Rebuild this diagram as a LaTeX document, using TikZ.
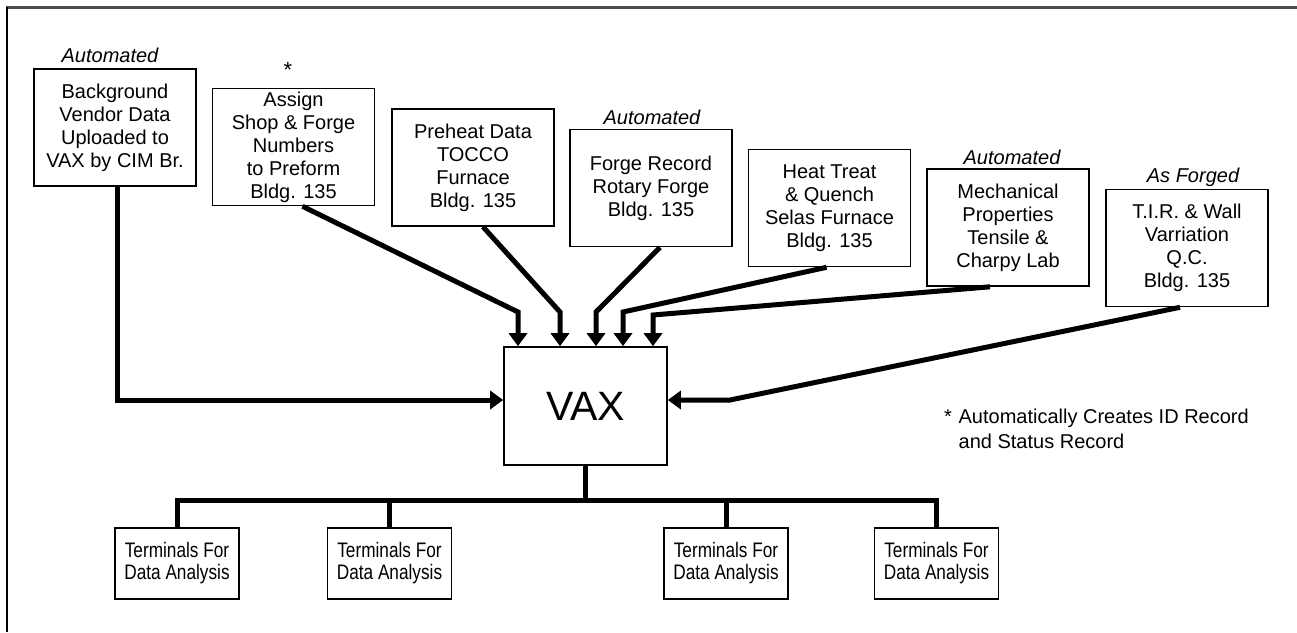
\documentclass[tikz,border=0pt]{standalone}
\usepackage{fontspec}
\setmainfont{Liberation Sans}
\newfontfamily\condfont[FakeStretch=0.82]{Liberation Sans}
\usetikzlibrary{arrows.meta}
\begin{document}
\begin{tikzpicture}[x=1pt,y=-1pt,
  every node/.style={font=\fontsize{20}{23}\selectfont},
  srcbox/.style={draw,line width=1.6pt,minimum width=162pt,minimum height=117pt,inner sep=0pt,align=center},
  termbox/.style={draw,line width=1.6pt,minimum width=124pt,minimum height=71pt,inner sep=0pt,align=center,font=\condfont\fontsize{21}{22}\selectfont},
  vaxbox/.style={draw,line width=1.6pt,minimum width=163pt,minimum height=118pt,inner sep=0pt,font=\fontsize{41}{44}\selectfont},
  tag/.style={font=\itshape\fontsize{20}{23}\selectfont,inner sep=0pt},
  conn/.style={line width=5pt},
  arr/.style={line width=5pt,-{Triangle[length=13pt,width=18pt]}}
]
\useasboundingbox (0,0) rectangle (1297,632);
% frame
\draw[line width=2.2pt,color=black!70] (6,7.5) -- (1297,7.5);
\draw[line width=1.5pt] (7,7) -- (7,632);

% source boxes
\node[srcbox] (b1) at (115,127.5) {Background\\Vendor Data\\Uploaded to\\VAX by CIM Br.};
\node[srcbox] (b2) at (293.5,147) {Assign\\Shop \& Forge\\Numbers\\to Preform\\Bldg. 135};
\node[srcbox] (b3) at (473,167.5) {Preheat Data\\TOCCO\\Furnace\\Bldg. 135};
\node[srcbox] (b4) at (651,188) {Forge Record\\Rotary Forge\\Bldg. 135};
\node[srcbox] (b5) at (829.5,208) {Heat Treat\\\& Quench\\Selas Furnace\\Bldg. 135};
\node[srcbox] (b6) at (1008,227.5) {Mechanical\\Properties\\Tensile \&\\Charpy Lab};
\node[srcbox] (b7) at (1187,248) {T.I.R. \& Wall\\Varriation\\Q.C.\\Bldg. 135};

% tags
\node[tag] (l1) at (110,55) {Automated};
\node[inner sep=0pt,font=\fontsize{22}{23}\selectfont] (l2) at (288,70) {*};
\node[tag] (l4) at (652,117) {Automated};
\node[tag] (l6) at (1012,157) {Automated};
\node[tag] (l7) at (1193,177) {As Forged};

% VAX
\node[vaxbox] (vax) at (585.5,406) {VAX};

% bend points
\coordinate (k1) at (117,400);
\coordinate (k2) at (518,312);
\coordinate (k3) at (560,312);
\coordinate (k4) at (596,312);
\coordinate (k5) at (623,312);
\coordinate (k6) at (653,315);
\coordinate (k7) at (730,400);

\draw[arr] ([xshift=2pt]b1.south) -- (k1) -- (k1 -| vax.west);
\draw[arr] ([xshift=9pt]b2.south) -- (k2) -- (k2 |- vax.north);
\draw[arr] ([xshift=10pt]b3.south) -- (k3) -- (k3 |- vax.north);
\draw[arr] ([xshift=9pt]b4.south) -- (k4) -- (k4 |- vax.north);
\draw[arr] ([xshift=-3pt]b5.south) -- (k5) -- (k5 |- vax.north);
\draw[arr] ([xshift=-18pt]b6.south) -- (k6) -- (k6 |- vax.north);
\draw[arr] ([xshift=-7pt]b7.south) -- (k7) -- (k7 -| vax.east);

% terminals
\node[termbox] (t1) at (177,563.5) {Terminals For\\Data Analysis};
\node[termbox] (t2) at (389.5,563.5) {Terminals For\\Data Analysis};
\node[termbox] (t3) at (726,563.5) {Terminals For\\Data Analysis};
\node[termbox] (t4) at (936.5,563.5) {Terminals For\\Data Analysis};

\coordinate (bus) at (585.5,500);
\draw[conn] (vax.south) -- (bus);
\draw[conn] (t1.north) |- (bus) -| (t4.north);
\draw[conn] (t2.north) -- (t2.north |- bus);
\draw[conn] (t3.north) -- (t3.north |- bus);

% footnote
\node[anchor=north west,align=left,inner sep=0pt,font=\fontsize{20}{24.5}\selectfont] (fn) at (944,409) {*\,\,Automatically Creates ID Record\\\hphantom{*\,\,}and Status Record};
\end{tikzpicture}
\end{document}
